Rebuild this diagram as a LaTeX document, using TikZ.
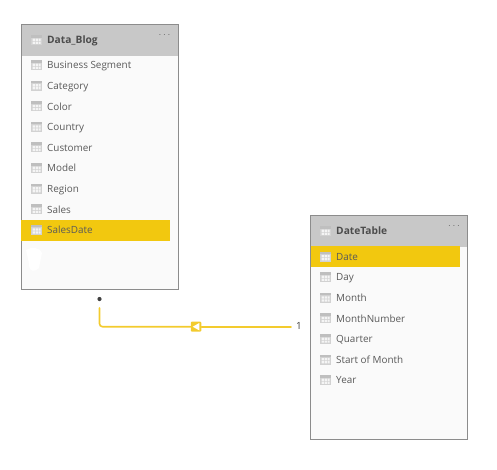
\documentclass[tikz,border=0pt]{standalone}
\usepackage{fontspec}
\setmainfont{Open Sans}
\usetikzlibrary{positioning}
\definecolor{headgray}{HTML}{C8C8C8}
\definecolor{bodygray}{HTML}{FAFAFA}
\definecolor{edgegray}{HTML}{8C8C8C}
\definecolor{textgray}{HTML}{5A5A5A}
\definecolor{pbiyellow}{HTML}{F2C80F}
\definecolor{linkyellow}{HTML}{F3CB2E}
\tikzset{
  tablebox/.style={rectangle, draw=edgegray, fill=bodygray, line width=1pt, minimum width=157pt, inner sep=0pt},
  headbar/.style={rectangle, fill=headgray, minimum width=156pt, minimum height=31pt, inner sep=0pt},
  rowbar/.style={rectangle, fill=pbiyellow, minimum width=149pt, minimum height=20.5pt, inner sep=0pt},
  rowtext/.style={text=textgray, font=\fontsize{9.9}{12}\selectfont, inner sep=0pt, anchor=west, text height=7.5pt, text depth=2.5pt, yshift=-1.3pt},
  headtext/.style={text=textgray!85!black, font=\fontsize{10.2}{12}\selectfont\bfseries, inner sep=0pt, anchor=west, text height=7.5pt, text depth=2.5pt, yshift=-1.3pt},
  dotstext/.style={text=gray!80!black, font=\normalsize, inner sep=0pt},
  link/.style={draw=linkyellow, line width=1.6pt, line cap=round},
  pics/tableicon/.style={code={
    \fill[gray!35] (-5.5,-5) rectangle (5.5,5);
    \fill[gray!50] (-5.5,-5) rectangle (5.5,-2.4);
    \fill[white!92!gray] (-4,-1.4) rectangle (-1.3,0.9) (-0.6,-1.4) rectangle (1.3,0.9) (2,-1.4) rectangle (4.2,0.9);
    \fill[white!92!gray] (-4,1.6) rectangle (-1.3,3.8) (-0.6,1.6) rectangle (1.3,3.8) (2,1.6) rectangle (4.2,3.8);
  }},
}
\begin{document}
\begin{tikzpicture}[x=1pt, y=-1pt]
\useasboundingbox (0,0) rectangle (497,469);
% left table
\node[tablebox, minimum height=265pt] (blog box) at (99.5,156.5) {};
\node[headbar] (blog head) at (99.5,40) {};
\node[rowbar] (blog mark) at (95.5,230.5) {};
\pic at (36.5,40) {tableicon};
\node[headtext] (blog title) at (47,40) {Data\_Blog};
\node[dotstext] (blog dots) at (164.5,35) {$\cdots$};
\foreach \name [count=\i from 0] in {Business Segment, Category, Color, Country, Customer, Model, Region, Sales, SalesDate} {
  \pgfmathsetmacro{\rowy}{65+20.6*\i}
  \pic at (36.5,\rowy) {tableicon};
  \node[rowtext] (blog row \i) at (47,\rowy) {\name};
}
\fill[white] (26,250) .. controls (31,246) and (41,248) .. (42,253) .. controls (41,258) and (40,262) .. (39,268) .. controls (35,272) and (30,272) .. (29,266) .. controls (29,260) and (27,256) .. (26,250);
% right table
\node[tablebox, minimum height=224pt] (date box) at (388.5,327) {};
\node[headbar] (date head) at (388.5,231) {};
\node[rowbar] (date mark) at (385,256.5) {};
\pic at (325.5,231) {tableicon};
\node[headtext] (date title) at (336,231) {DateTable};
\node[dotstext] (date dots) at (454,226) {$\cdots$};
\foreach \name [count=\i from 0] in {Date, Day, Month, MonthNumber, Quarter, Start of Month, Year} {
  \pgfmathsetmacro{\rowy}{256.5+20.6*\i}
  \pic at (325.5,\rowy) {tableicon};
  \node[rowtext] (date row \i) at (336,\rowy) {\name};
}
% relationship
\node[circle, fill=black!75, inner sep=0pt, minimum size=4.2pt] (many end) at (99.5,299) {};
\node[text=textgray!70!black, font=\fontsize{9.9}{12}\selectfont, inner sep=0pt] (one end) at (299,326) {1};
\node[rectangle, fill=linkyellow, rounded corners=1pt, minimum width=10.5pt, minimum height=10pt, inner sep=0pt] (dir mark) at (196,326.7) {};
\draw[link, rounded corners=3pt, shorten <=6.5pt] (many end.south) |- (dir mark.west);
\draw[link, shorten >=5pt] (dir mark.east) -- (one end.west |- dir mark.east);
\fill[white] (192.7,326.7) -- (199.3,323) -- (199.3,330.4) -- cycle;
\end{tikzpicture}
\end{document}
